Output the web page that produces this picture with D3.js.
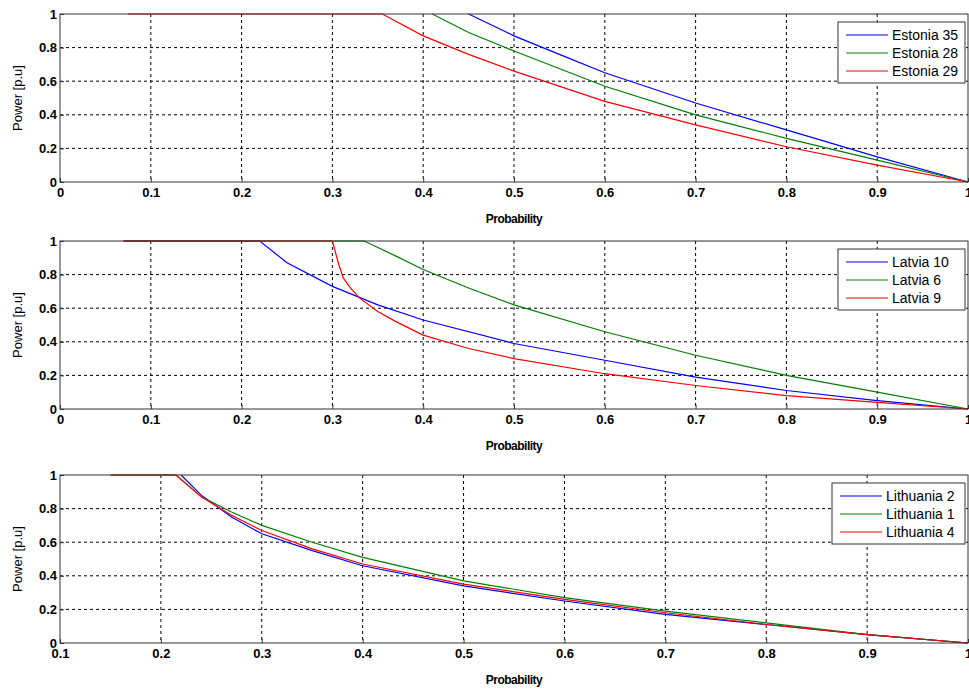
<!DOCTYPE html>
<html><head><meta charset="utf-8">
<script src="https://cdn.jsdelivr.net/npm/d3@7"></script>
<style>body{margin:0;background:#fff}svg{font-family:Arial,"Liberation Sans",sans-serif}</style>
</head><body><svg id="c" width="969" height="693"></svg>
<script>
const estonia35 = [[0.45,1],[0.5,0.87],[0.55,0.76],[0.6,0.65],[0.7,0.47],[0.8,0.31],[0.9,0.15],[1,0]];
const estonia28 = [[0.41,1],[0.45,0.89],[0.5,0.78],[0.6,0.57],[0.7,0.40],[0.8,0.26],[0.9,0.13],[1,0]];
const estonia29 = [[0.075,1],[0.355,1],[0.4,0.87],[0.45,0.76],[0.5,0.66],[0.6,0.48],[0.7,0.34],[0.8,0.21],[0.9,0.10],[1,0]];
const latvia10 = [[0.07,1],[0.22,1],[0.25,0.87],[0.3,0.73],[0.35,0.62],[0.4,0.53],[0.5,0.39],[0.6,0.29],[0.7,0.19],[0.8,0.11],[0.9,0.05],[1,0]];
const latvia6 = [[0.07,1],[0.335,1],[0.37,0.91],[0.4,0.83],[0.45,0.72],[0.5,0.62],[0.6,0.46],[0.7,0.32],[0.8,0.20],[0.9,0.10],[1,0]];
const latvia9 = [[0.07,1],[0.3,1],[0.303,0.94],[0.307,0.86],[0.312,0.78],[0.32,0.72],[0.33,0.66],[0.35,0.58],[0.37,0.52],[0.4,0.44],[0.45,0.36],[0.5,0.30],[0.6,0.21],[0.7,0.14],[0.8,0.08],[0.9,0.04],[1,0]];
const lith2 = [[0.22,1],[0.24,0.88],[0.27,0.75],[0.3,0.65],[0.35,0.55],[0.4,0.46],[0.5,0.34],[0.6,0.25],[0.7,0.17],[0.8,0.11],[0.9,0.05],[1,0]];
const lith1 = [[0.15,1],[0.215,1],[0.24,0.87],[0.27,0.78],[0.3,0.70],[0.35,0.60],[0.4,0.51],[0.5,0.37],[0.6,0.27],[0.7,0.19],[0.8,0.12],[0.9,0.05],[1,0]];
const lith4 = [[0.15,1],[0.215,1],[0.24,0.87],[0.27,0.76],[0.3,0.67],[0.35,0.56],[0.4,0.47],[0.5,0.35],[0.6,0.26],[0.7,0.18],[0.8,0.11],[0.9,0.05],[1,0]];
const colors = ["#0000ff","#008000","#ff0000"];

const panels = [
  {top:14, x0:0, names:["Estonia 35","Estonia 28","Estonia 29"], data:[estonia35,estonia28,estonia29], lw:127},
  {top:241, x0:0, names:["Latvia 10","Latvia 6","Latvia 9"], data:[latvia10,latvia6,latvia9], lw:127},
  {top:475, x0:0.1, names:["Lithuania 2","Lithuania 1","Lithuania 4"], data:[lith2,lith1,lith4], lw:133}
];
const svg = d3.select("#c");
const L = 60, R = 968, H = 168;

panels.forEach(p => {
  const g = svg.append("g").attr("transform", `translate(0,${p.top})`);
  const x = d3.scaleLinear().domain([p.x0,1]).range([L,R]);
  const y = d3.scaleLinear().domain([0,1]).range([H,0]);
  const xt = d3.range(Math.round(p.x0*10), 11).map(d => d/10);
  const yt = [0,0.2,0.4,0.6,0.8,1];
  xt.slice(1,-1).forEach(t => g.append("line").attr("x1",x(t)).attr("x2",x(t)).attr("y1",0).attr("y2",H)
    .attr("stroke","#000").attr("stroke-dasharray","3,3"));
  yt.slice(1,-1).forEach(t => g.append("line").attr("x1",L).attr("x2",R).attr("y1",y(t)).attr("y2",y(t))
    .attr("stroke","#000").attr("stroke-dasharray","3,3"));
  const line = d3.line().x(d => x(d[0])).y(d => y(d[1]));
  p.data.forEach((s,i) => g.append("path").attr("d",line(s)).attr("fill","none").attr("stroke",colors[i]).attr("stroke-width",1.2));
  g.append("rect").attr("x",L).attr("y",0).attr("width",R-L).attr("height",H).attr("fill","none").attr("stroke","#333");
  g.append("g").attr("transform",`translate(0,${H})`)
    .call(d3.axisBottom(x).tickValues(xt).tickFormat(d => d3.format("")(+d.toFixed(1))).tickSizeInner(-4).tickSizeOuter(0))
    .call(a => a.select(".domain").remove())
    .selectAll("text").attr("font-size",13).attr("font-weight","bold").attr("dy","0.9em");
  g.append("g").attr("transform",`translate(${L},0)`)
    .call(d3.axisLeft(y).tickValues(yt).tickFormat(d => d3.format("")(+d.toFixed(1))).tickSizeInner(-4).tickSizeOuter(0))
    .call(a => a.select(".domain").remove())
    .selectAll("text").attr("font-size",13).attr("font-weight","bold");
  svg.selectAll(".tick line").attr("stroke","#333");
  g.append("text").attr("x",(L+R)/2).attr("y",H+41).attr("text-anchor","middle").attr("font-size",12)
    .attr("font-weight","bold").attr("letter-spacing","-0.5").text("Probability");
  g.append("text").attr("transform",`translate(22,${H/2}) rotate(-90)`).attr("text-anchor","middle")
    .attr("font-size",13).text("Power  [p.u]");
  const lx = R-3-p.lw, ly = 8;
  const lg = g.append("g").attr("transform",`translate(${lx},${ly})`);
  lg.append("rect").attr("width",p.lw).attr("height",61).attr("fill","#fff").attr("stroke","#333");
  p.names.forEach((n,i) => {
    lg.append("line").attr("x1",8).attr("x2",50).attr("y1",13+i*18).attr("y2",13+i*18).attr("stroke",colors[i]);
    lg.append("text").attr("x",54).attr("y",13+i*18).attr("dy","0.35em").attr("font-size",14).text(n);
  });
});
</script></body></html>
